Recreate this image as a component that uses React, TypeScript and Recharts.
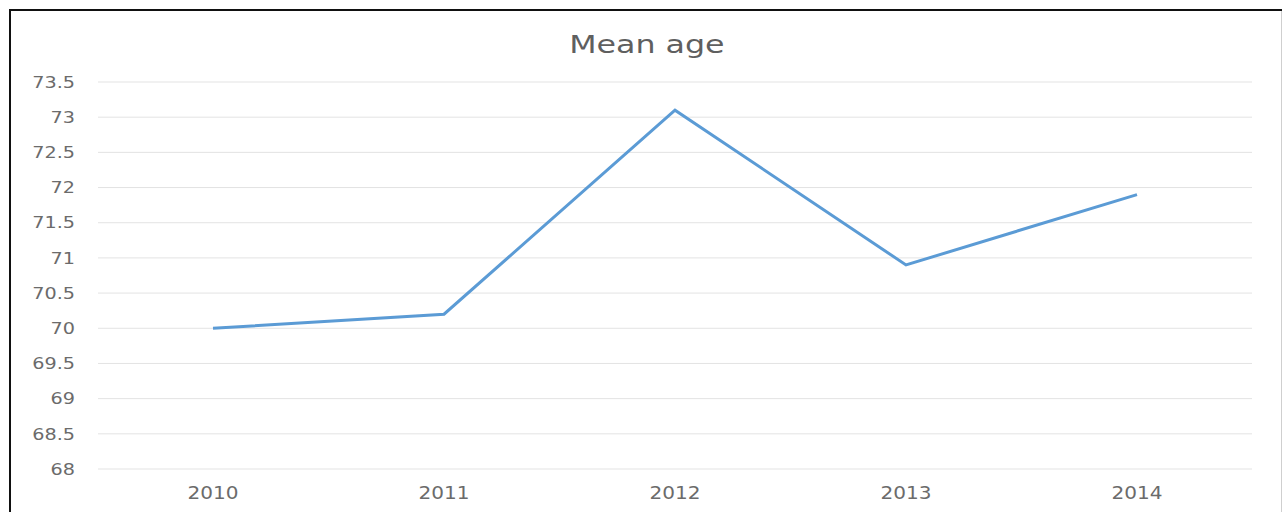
import React from 'react';
import { LineChart, Line, XAxis, YAxis, CartesianGrid } from 'recharts';

const years = ['2010', '2011', '2012', '2013', '2014'];
const meanAge = [70.0, 70.2, 73.1, 70.9, 71.9];
const yTicks = [68, 68.5, 69, 69.5, 70, 70.5, 71, 71.5, 72, 72.5, 73, 73.5];
const title = 'Mean age';

const data = years.map((y, i) => ({ year: y, value: meanAge[i] }));

const FONT = '"DejaVu Sans", sans-serif';
const TEXT = '#6b6b6b';

const YTick = (props: any) => {
  const { x, y, payload } = props;
  return (
    <text
      transform={`translate(${x},${y}) scale(1.2,1)`}
      x={0}
      y={0}
      dy="0.36em"
      textAnchor="end"
      fill={TEXT}
      fontSize={16}
      fontFamily={FONT}
    >
      {String(payload.value)}
    </text>
  );
};

const XTick = (props: any) => {
  const { x, y, payload } = props;
  return (
    <text
      transform={`translate(${x},${y}) scale(1.18,1)`}
      x={0}
      y={30}
      textAnchor="middle"
      fill={TEXT}
      fontSize={17}
      fontFamily={FONT}
    >
      {payload.value}
    </text>
  );
};

export default function App() {
  return (
    <div style={{ position: 'absolute', left: 0, top: 0, width: 1284, height: 512, background: '#fff', overflow: 'hidden' }}>
      <LineChart width={1284} height={512} data={data} margin={{ top: 82, right: 32, bottom: 0, left: 0 }}>
        <CartesianGrid horizontal vertical={false} stroke="#E3E3E3" strokeWidth={1} />
        <XAxis
          dataKey="year"
          axisLine={false}
          tickLine={false}
          tickSize={0}
          tickMargin={0}
          height={43}
          padding={{ left: 115, right: 115 }}
          tick={<XTick />}
          interval={0}
        />
        <YAxis
          domain={[68, 73.5]}
          ticks={yTicks}
          axisLine={false}
          tickLine={false}
          tickSize={0}
          tickMargin={23}
          width={98}
          tick={<YTick />}
          interval={0}
          allowDataOverflow
        />
        <Line
          type="linear"
          dataKey="value"
          stroke="#5B9BD5"
          strokeWidth={3}
          dot={false}
          activeDot={false}
          isAnimationActive={false}
        />
      </LineChart>
      <div
        style={{
          position: 'absolute',
          left: 0,
          top: 33,
          width: 1284,
          textAlign: 'center',
          fontFamily: FONT,
          fontSize: 24,
          lineHeight: '24px',
          color: '#5f5f5f',
        }}
      >
        <span style={{ display: 'inline-block', transform: 'scaleX(1.32)', marginLeft: 10 }}>{title}</span>
      </div>
      <div style={{ position: 'absolute', left: 9, top: 9, width: 1273, height: 2, background: '#111' }} />
      <div style={{ position: 'absolute', left: 9, top: 9, width: 2, height: 503, background: '#111' }} />
      <div style={{ position: 'absolute', left: 1281, top: 11, width: 1, height: 501, background: '#cfcfcf' }} />
    </div>
  );
}
